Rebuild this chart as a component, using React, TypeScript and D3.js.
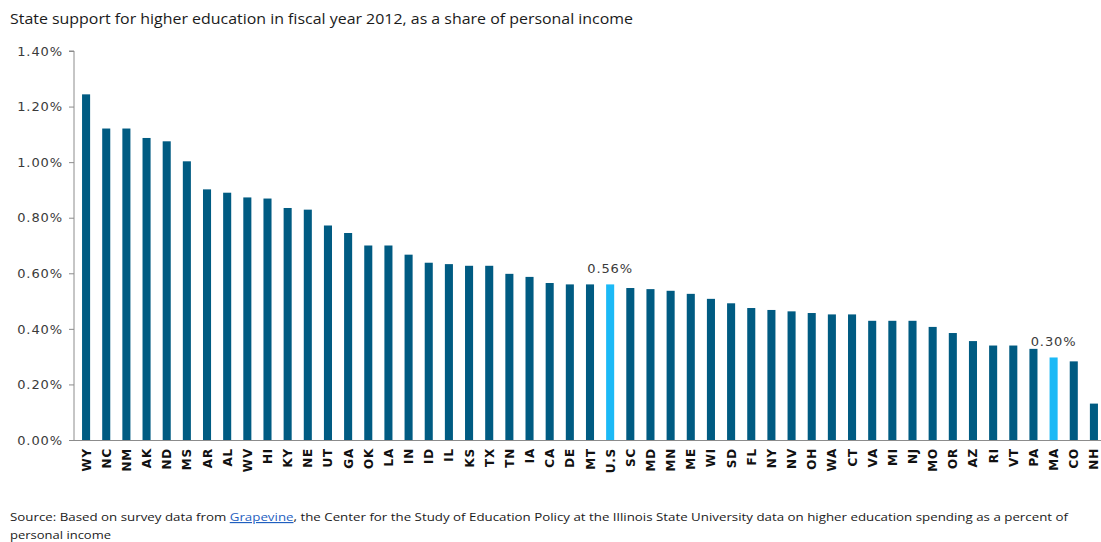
import React, { useEffect, useRef } from 'react';
import * as d3 from 'd3';

// states, ordered as in the chart
const states = [
  'WY', 'NC', 'NM', 'AK', 'ND', 'MS', 'AR', 'AL', 'WV', 'HI', 'KY', 'NE', 'UT',
  'GA', 'OK', 'LA', 'IN', 'ID', 'IL', 'KS', 'TX', 'TN', 'IA', 'CA', 'DE', 'MT',
  'U.S', 'SC', 'MD', 'MN', 'ME', 'WI', 'SD', 'FL', 'NY', 'NV', 'OH', 'WA', 'CT',
  'VA', 'MI', 'NJ', 'MO', 'OR', 'AZ', 'RI', 'VT', 'PA', 'MA', 'CO', 'NH',
];

// share of personal income, in %
const shares = [
  1.244, 1.121, 1.121, 1.087, 1.075, 1.003, 0.902, 0.89, 0.873, 0.869, 0.835, 0.829, 0.772,
  0.745, 0.7, 0.7, 0.667, 0.638, 0.633, 0.627, 0.627, 0.598, 0.587, 0.565, 0.56, 0.56,
  0.56, 0.547, 0.543, 0.537, 0.526, 0.508, 0.492, 0.475, 0.468, 0.463, 0.457, 0.452, 0.452,
  0.429, 0.429, 0.429, 0.407, 0.385, 0.356, 0.34, 0.34, 0.328, 0.297, 0.283, 0.131,
];

const highlighted = ['U.S', 'MA'];
const yTicks = [0, 0.2, 0.4, 0.6, 0.8, 1.0, 1.2, 1.4];

const title = 'State support for higher education in fiscal year 2012, as a share of personal income';

const labelFont = "'DejaVu Sans', Verdana, sans-serif";
const textFont = "'Open Sans', sans-serif";

export default function App() {
  const ref = useRef<SVGSVGElement | null>(null);

  useEffect(() => {
    if (!ref.current) return;
    const svg = d3.select(ref.current);
    svg.selectAll('*').remove();

    const width = 1101;
    const height = 542;
    const axisX = 74;
    const top = 51;
    const bottom = 440;

    const x = d3.scaleBand<string>()
      .domain(states)
      .range([76, 1104])
      .paddingInner(0.6)
      .paddingOuter(0.3);

    const y = d3.scaleLinear().domain([0, 1.4]).range([bottom, top]);

    svg.attr('width', width).attr('height', height);

    svg.append('rect')
      .attr('width', width)
      .attr('height', height)
      .attr('fill', '#ffffff');

    // title
    svg.append('text')
      .attr('x', 10)
      .attr('y', 24)
      .attr('fill', '#1a1a1a')
      .attr('textLength', 623)
      .attr('lengthAdjust', 'spacingAndGlyphs')
      .attr('font-family', textFont)
      .attr('font-size', 14)
      .text(title);

    // y axis
    const yAxis = d3.axisLeft(y)
      .tickValues(yTicks)
      .tickSize(5)
      .tickPadding(6)
      .tickFormat(d => (d as number).toFixed(2) + '%');

    const gy = svg.append('g')
      .attr('transform', `translate(${axisX},0)`)
      .call(yAxis)
      .attr('font-family', labelFont)
      .attr('font-size', 13);
    gy.select('.domain').attr('stroke', '#8c8c8c').attr('d', `M-5,${top}H0V${bottom}`);
    gy.selectAll('.tick line').attr('stroke', '#8c8c8c');
    gy.selectAll('.tick text')
      .attr('fill', '#3a3a3a')
      .attr('letter-spacing', 0.9);

    // bars
    svg.selectAll('rect.bar')
      .data(states)
      .join('rect')
      .attr('class', 'bar')
      .attr('x', d => x(d)!)
      .attr('width', x.bandwidth())
      .attr('y', (d, i) => y(shares[i]))
      .attr('height', (d, i) => bottom - y(shares[i]))
      .attr('fill', d => (highlighted.includes(d) ? '#1cb9f6' : '#005b82'));

    // x axis line
    svg.append('line')
      .attr('x1', axisX)
      .attr('x2', width)
      .attr('y1', bottom + 0.5)
      .attr('y2', bottom + 0.5)
      .attr('stroke', '#8c8c8c');

    // category labels, rotated
    svg.selectAll('text.cat')
      .data(states)
      .join('text')
      .attr('class', 'cat')
      .attr('transform', d => `translate(${x(d)! + x.bandwidth() / 2 + 4.5},${bottom + 8}) rotate(-90)`)
      .attr('text-anchor', 'end')
      .attr('fill', '#111111')
      .attr('font-family', labelFont)
      .attr('font-weight', 'bold')
      .attr('font-size', 12)
      .attr('letter-spacing', 0.8)
      .text(d => d);

    // value labels on highlighted bars
    highlighted.forEach(s => {
      const i = states.indexOf(s);
      svg.append('text')
        .attr('x', x(s)! + x.bandwidth() / 2)
        .attr('y', y(shares[i]) - 11)
        .attr('text-anchor', 'middle')
        .attr('fill', '#3a3a3a')
        .attr('font-family', labelFont)
        .attr('font-size', 13)
        .attr('letter-spacing', 0.9)
        .text(shares[i].toFixed(2) + '%');
    });

    // source note
    const src = svg.append('text')
      .attr('x', 10)
      .attr('y', 521)
      .attr('fill', '#1a1a1a')
      .attr('textLength', 1058)
      .attr('lengthAdjust', 'spacingAndGlyphs')
      .attr('font-family', textFont)
      .attr('font-size', 11.5);
    src.append('tspan').text('Source: Based on survey data from ');
    src.append('tspan')
      .attr('fill', '#1f5fbf')
      .attr('text-decoration', 'underline')
      .text('Grapevine');
    src.append('tspan').text(', the Center for the Study of Education Policy at the Illinois State University data on higher education spending as a percent of');

    svg.append('text')
      .attr('x', 10)
      .attr('y', 539)
      .attr('fill', '#1a1a1a')
      .attr('textLength', 101)
      .attr('lengthAdjust', 'spacingAndGlyphs')
      .attr('font-family', textFont)
      .attr('font-size', 11.5)
      .text('personal income');
  }, []);

  return (
    <div style={{ position: 'absolute', left: 0, top: 0 }}>
      <svg ref={ref} style={{ display: 'block' }} />
    </div>
  );
}
